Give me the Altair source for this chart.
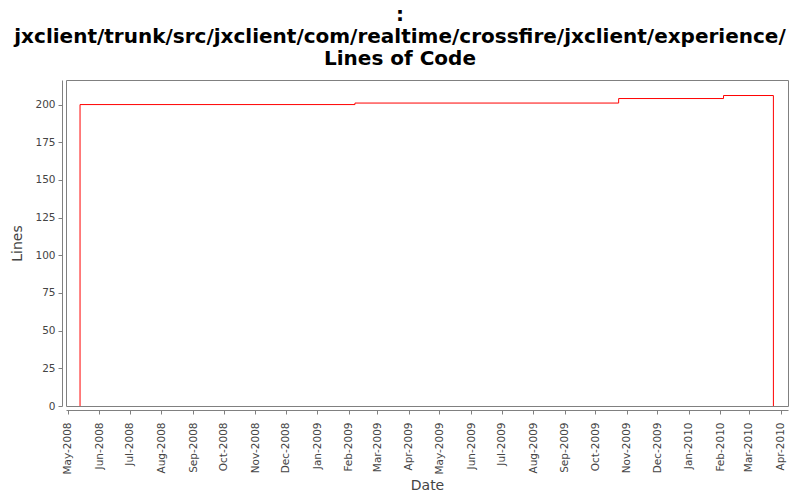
import altair as alt
import pandas as pd

dates = ["2008-05-13", "2008-05-13", "2009-02-07", "2009-10-24", "2010-02-04", "2010-03-25"]
lines = [0, 200, 201, 204, 206, 0]

df = pd.DataFrame({"date": [d + "T00:00:00" for d in dates], "lines": lines})

title_lines = [":", "jxclient/trunk/src/jxclient/com/realtime/crossfire/jxclient/experience/", "Lines of Code"]

chart = alt.Chart(df).mark_line(
    color="#ff0000", strokeWidth=1, interpolate="step-after"
).encode(
    x=alt.X("date:T", title="Date",
            scale=alt.Scale(domain=[alt.DateTime(year=2008, month=4, date=29, hours=5),
                                    alt.DateTime(year=2010, month=4, date=8, hours=8)], nice=False),
            axis=alt.Axis(format="%b-%Y", tickCount="month", labelAngle=270, offset=4,
                          labelFontSize=10.5, titleFontSize=14, labelPadding=8, titlePadding=4,
                          grid=False)),
    y=alt.Y("lines:Q", title="Lines",
            scale=alt.Scale(domain=[0, 216.3], nice=False),
            axis=alt.Axis(values=[0, 25, 50, 75, 100, 125, 150, 175, 200], offset=4,
                          labelFontSize=10.5, titleFontSize=14, labelPadding=3, titlePadding=10,
                          grid=False)),
).properties(
    width=722, height=326,
    autosize=alt.AutoSizeParams(type="none"),
    padding={"left": 58, "top": 72, "right": 4, "bottom": 86},
    title=alt.TitleParams(text=title_lines, font="DejaVu Sans", fontSize=20, fontWeight="bold",
                          color="#000000", lineHeight=22, anchor="middle", dx=-27, offset=11),
).configure_axis(
    labelFont="DejaVu Sans", titleFont="DejaVu Sans", labelColor="#444444", titleColor="#444444",
    titleFontWeight="normal", domainColor="#808080", tickColor="#808080", tickSize=4,
).configure_view(stroke="#808080", strokeWidth=1)

chart.save("out.html", embed_options={"renderer": "svg", "actions": False})
